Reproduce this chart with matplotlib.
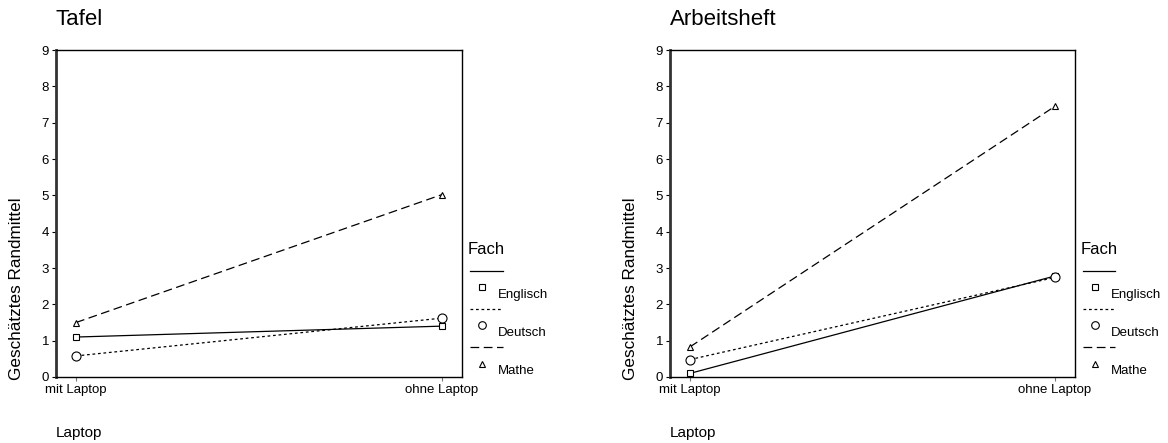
import matplotlib
matplotlib.use('Agg')
import matplotlib.pyplot as plt
from matplotlib.lines import Line2D

plt.rcParams['font.family'] = ['Liberation Sans', 'DejaVu Sans']

# Geschätzte Randmittel je Fach, mit / ohne Laptop
laptop = ['mit Laptop', 'ohne Laptop']
faecher = ['Englisch', 'Deutsch', 'Mathe']
tafel_englisch = [1.1, 1.4]
tafel_deutsch = [0.58, 1.62]
tafel_mathe = [1.5, 5.02]
heft_englisch = [0.1, 2.78]
heft_deutsch = [0.48, 2.74]
heft_mathe = [0.83, 7.45]

styles = {
    'Englisch': dict(linestyle='-', marker='s', markersize=5),
    'Deutsch': dict(linestyle=(0, (2.2, 2.2)), marker='o', markersize=6.5),
    'Mathe': dict(linestyle=(0, (7, 3.6)), marker='^', markersize=5),
}

fig = plt.figure(figsize=(11.68, 4.43), dpi=100)
ax1 = fig.add_axes([0.0479, 0.149, 0.3476, 0.738])
ax2 = fig.add_axes([0.5736, 0.149, 0.3467, 0.738])


def draw_panel(ax, title, werte):
    x = [0, 1]
    for fach, y in zip(faecher, werte):
        st = styles[fach]
        ax.plot(x, y, color='black', lw=0.9, linestyle=st['linestyle'],
                marker=st['marker'], markersize=st['markersize'],
                markerfacecolor='white', markeredgecolor='black',
                markeredgewidth=0.8, clip_on=False)
    ax.set_xlim(-0.055, 1.055)
    ax.set_ylim(0, 9)
    ax.set_yticks(range(10))
    ax.set_xticks(x)
    ax.set_xticklabels(laptop, fontsize=9.5)
    ax.tick_params(axis='y', labelsize=9.5, length=3, width=0.8, pad=2)
    ax.tick_params(axis='x', length=3, width=0.8, color='#777777', pad=2)
    for s in ['top', 'right', 'bottom']:
        ax.spines[s].set_linewidth(1.0)
    ax.spines['left'].set_linewidth(2.0)
    ax.spines['left'].set_color('#333333')
    ax.text(0.0, 1.06, title, transform=ax.transAxes, fontsize=16,
            ha='left', va='bottom')
    ax.text(0.0, -0.15, 'Laptop', transform=ax.transAxes, fontsize=11,
            ha='left', va='top')
    ax.text(-0.097, 0.27, 'Geschätztes Randmittel', transform=ax.transAxes,
            fontsize=12.3, rotation=90, ha='center', va='center')

    # Legende: Linie oben, darunter Symbol und Name
    tr = ax.transAxes
    ax.text(1.013, 0.39, 'Fach', transform=tr, fontsize=12, ha='left', va='center')
    for i, fach in enumerate(faecher):
        st = styles[fach]
        y0 = 0.325 - i * 0.117
        ax.add_line(Line2D([1.02, 1.1], [y0, y0], transform=tr, color='black',
                           lw=0.9, linestyle=st['linestyle'], clip_on=False))
        ax.add_line(Line2D([1.049], [y0 - 0.05], transform=tr, marker=st['marker'],
                           markersize=st['markersize'] - 1, markerfacecolor='white',
                           markeredgecolor='black', markeredgewidth=0.8,
                           linestyle='none', clip_on=False))
        ax.text(1.089, y0 - 0.073, fach, transform=tr, fontsize=9.5,
                ha='left', va='center')


draw_panel(ax1, 'Tafel', [tafel_englisch, tafel_deutsch, tafel_mathe])
draw_panel(ax2, 'Arbeitsheft', [heft_englisch, heft_deutsch, heft_mathe])

fig.savefig('out.png', dpi=100)
